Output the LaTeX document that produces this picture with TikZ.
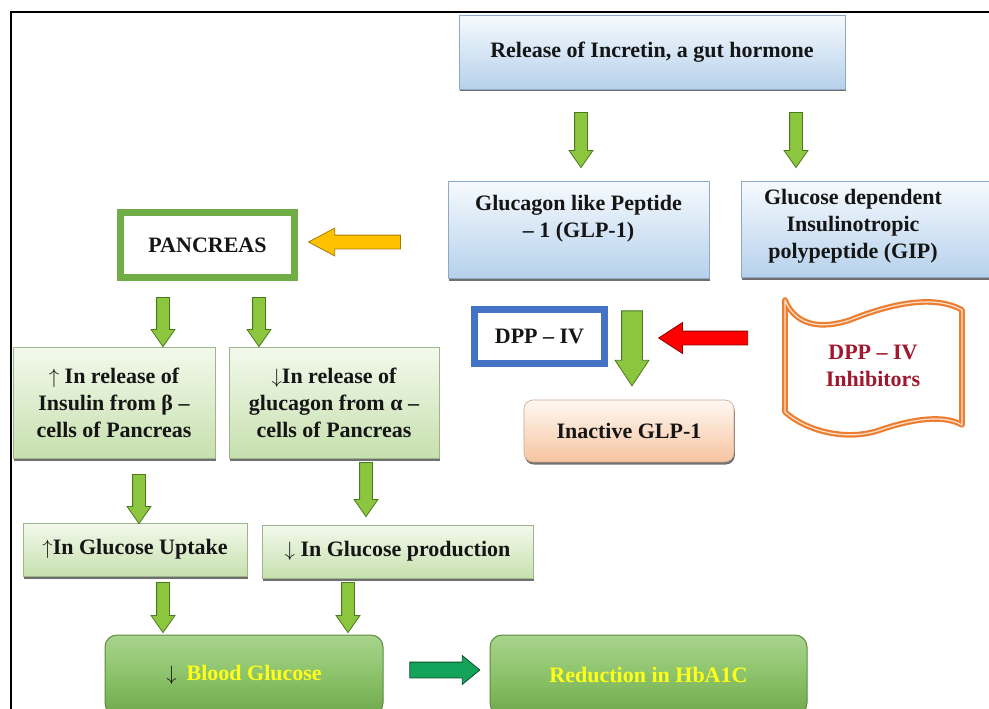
\documentclass[tikz,border=0pt]{standalone}
\usepackage{fontspec}
\setmainfont{Liberation Serif}
\usetikzlibrary{shapes.arrows,shadows,calc}
\definecolor{txtc}{HTML}{151515}
\definecolor{bluetop}{HTML}{F6FAFE}
\definecolor{bluebot}{HTML}{B6D1EC}
\definecolor{bborder}{HTML}{8FA9C4}
\definecolor{lgtop}{HTML}{F3F9EC}
\definecolor{lgbot}{HTML}{C6E0AE}
\definecolor{lgborder}{HTML}{9DB58C}
\definecolor{ptop}{HTML}{FFF8F2}
\definecolor{pbot}{HTML}{F6C4A0}
\definecolor{pborder}{HTML}{C9A68F}
\definecolor{dgtop}{HTML}{A8D48D}
\definecolor{dgmid}{HTML}{8CC36A}
\definecolor{dgbot}{HTML}{6EA84D}
\definecolor{dgborder}{HTML}{5D8C3F}
\definecolor{ytext}{HTML}{FFFF1A}
\definecolor{gafill}{HTML}{8CC63F}
\definecolor{galine}{HTML}{4A7A1E}
\definecolor{yafill}{HTML}{FFC000}
\definecolor{yaline}{HTML}{A67C00}
\definecolor{rafill}{HTML}{FF0000}
\definecolor{raline}{HTML}{8B0000}
\definecolor{tafill}{HTML}{14A35A}
\definecolor{taline}{HTML}{0B4D2A}
\definecolor{pgreen}{HTML}{70AD47}
\definecolor{dblue}{HTML}{4472C4}
\definecolor{borange}{HTML}{ED7D31}
\definecolor{binner}{HTML}{FDE3CF}
\definecolor{inhc}{HTML}{A0172E}
\tikzset{
  bx/.style={align=center, inner sep=0pt, text=txtc, line width=0.6pt},
  shad/.style={drop shadow={shadow xshift=0.8pt, shadow yshift=-2.5pt, fill=black!75, opacity=0.75}},
  bluebox/.style={bx, shad, draw=bborder, top color=bluetop, bottom color=bluebot},
  lgbox/.style={bx, shad, draw=lgborder, top color=lgtop, bottom color=lgbot},
  peachbox/.style={bx, shad, draw=pborder, top color=ptop, bottom color=pbot, rounded corners=9pt},
  dgbox/.style={bx, draw=dgborder, line width=1pt, top color=dgtop, bottom color=dgbot, middle color=dgmid, rounded corners=12pt, text=ytext},
  panbox/.style={bx, draw=pgreen, line width=5pt, fill=white},
  dppbox/.style={bx, draw=dblue, line width=5pt, fill=white},
  blockarrow/.style={single arrow, inner xsep=0pt, single arrow head indent=0pt, line width=0.8pt},
  garrow/.style={blockarrow, draw=galine, fill=gafill, inner ysep=6pt, minimum width=23pt, single arrow head extend=5.5pt, single arrow tip angle=70, rotate=-90},
}
\begin{document}
\begin{tikzpicture}[x=1pt,y=-1pt, font=\fontsize{22}{27}\selectfont\bfseries]
\useasboundingbox (0,0) rectangle (989,709);
\fill[white] (0,0) rectangle (989,709);
% frame
\draw[line width=1.5pt] (11,712) -- (11,12) -- (995,12);

% boxes
\node[bluebox, minimum width=386pt, minimum height=74pt] (rel) at (652,52) {Release of Incretin, a gut hormone};
\node[bluebox, minimum width=261pt, minimum height=97pt] (glp) at (578.5,229.5) {Glucagon like Peptide\\– 1 (GLP-1)\\\mbox{}};
\node[bluebox, minimum width=254pt, minimum height=96pt] (gipbox) at (868,229) {};
\node[bx] (gip) at (853,226) {Glucose dependent\\Insulinotropic\\polypeptide (GIP)};

\node[panbox, minimum width=176pt, minimum height=67pt] (pancreas) at (207.5,245) {PANCREAS};
\draw[pgreen, line width=1.2pt] ([shift={(6pt,-6pt)}]pancreas.north west) rectangle ([shift={(-6pt,6pt)}]pancreas.south east);

\node[lgbox, minimum width=202pt, minimum height=111pt] (beta) at (114,402.5) {$\uparrow$ In release of\\Insulin from β –\\cells of Pancreas};
\node[lgbox, minimum width=210pt, minimum height=111pt] (alpha) at (334,402.5) {$\downarrow$In release of\\glucagon from α –\\cells of Pancreas};

\node[dppbox, minimum width=132pt, minimum height=56pt] (dpp) at (539.5,336.5) {DPP – IV};
\draw[dblue, line width=1.2pt] ([shift={(6pt,-6pt)}]dpp.north west) rectangle ([shift={(-6pt,6pt)}]dpp.south east);

\node[peachbox, minimum width=210pt, minimum height=62pt] (inactive) at (629,431) {Inactive GLP-1};

% banner
\fill[white] (785,412) -- (785,300) .. controls (795,325) and (820,330) .. (850,320) .. controls (880,308) and (930,292) .. (962,310) -- (962,425) .. controls (945,415) and (915,418) .. (880,430) .. controls (845,442) and (805,430) .. (785,412) -- cycle;
\draw[borange, line width=2.2pt, double=binner, double distance=1.2pt, line join=round] (785,412) -- (785,300) .. controls (795,325) and (820,330) .. (850,320) .. controls (880,308) and (930,292) .. (962,310) -- (962,425) .. controls (945,415) and (915,418) .. (880,430) .. controls (845,442) and (805,430) .. (785,412) -- cycle;
\node[bx, text=inhc] (inhib) at (873,366) {DPP – IV\\Inhibitors};

\node[lgbox, minimum width=224pt, minimum height=53pt] (uptake) at (135,549.5) {$\uparrow$In Glucose Uptake};
\node[lgbox, minimum width=271pt, minimum height=53pt] (production) at (397.5,551.5) {$\downarrow$ In Glucose production};

\node[dgbox, minimum width=278pt, minimum height=80pt] (blood) at (244,675) {\textcolor{txtc}{$\downarrow$}\hspace{10pt}Blood Glucose};
\node[dgbox, minimum width=317pt, minimum height=80pt] (hba) at (648.5,675) {Reduction in HbA1C};

% block arrows
\node[garrow, minimum height=55pt] (a1) at (581,135.5) {};
\node[garrow, minimum height=55pt] (a2) at (796,135.5) {};
\node[garrow, minimum height=49pt] (a3) at (163,317.5) {};
\node[garrow, minimum height=49pt] (a4) at (259,317.5) {};
\node[garrow, minimum height=75pt, inner ysep=10pt, minimum width=33pt, single arrow head extend=6.5pt, single arrow tip angle=67] (a5) at (632,340.5) {};
\node[garrow, minimum height=49pt] (a6) at (139,494.5) {};
\node[garrow, minimum height=54pt] (a7) at (366,485) {};
\node[garrow, minimum height=50pt] (a8) at (163,603) {};
\node[garrow, minimum height=50pt] (a9) at (348,603) {};
\node[blockarrow, draw=yaline, fill=yafill, inner ysep=6.5pt, minimum width=27pt, single arrow head extend=7pt, single arrow tip angle=56, minimum height=92pt, rotate=180] (a10) at (361,242) {};
\node[blockarrow, draw=raline, fill=rafill, inner ysep=6.5pt, minimum width=30pt, single arrow head extend=8.5pt, single arrow tip angle=66, minimum height=89pt, rotate=180] (a11) at (708.5,338) {};
\node[blockarrow, draw=taline, fill=tafill, inner ysep=7.5pt, minimum width=28pt, single arrow head extend=6.5pt, single arrow tip angle=79, minimum height=70pt] (a12) at (440,670) {};
\end{tikzpicture}
\end{document}
